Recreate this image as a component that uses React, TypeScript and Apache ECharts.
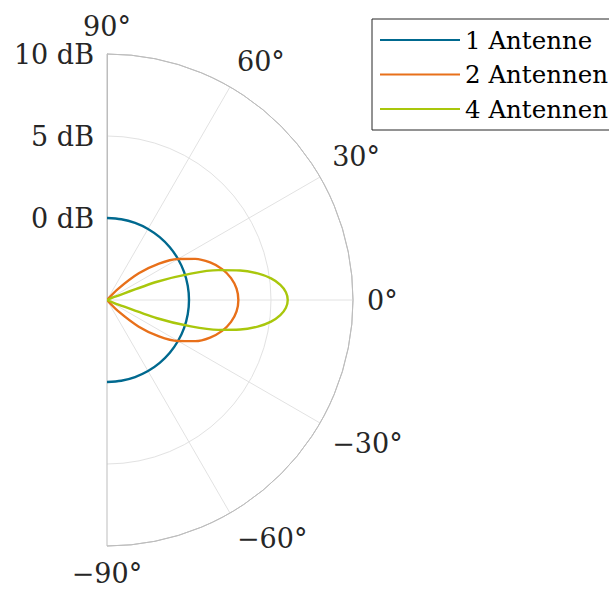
import React, { useEffect, useRef } from "react";
import * as echarts from "echarts";

// Beam patterns (gain in dB vs. angle in degrees)
const seriesNames = ["1 Antenne", "2 Antennen", "4 Antennen"];
const seriesColors = ["#00698f", "#e8701a", "#a9c70c"];

const angles1 = [-90, -80, -70, -60, -50, -40, -30, -20, -10, 0, 10, 20, 30, 40, 50, 60, 70, 80, 90];
const gain1 = [0, 0, 0, 0, 0, 0, 0, 0, 0, 0, 0, 0, 0, 0, 0, 0, 0, 0, 0];

const angles2 = [-90, -50, -45, -40, -35, -30, -25, -20, -15, -10, -5, 0, 5, 10, 15, 20, 25, 30, 35, 40, 45, 50, 90];
const gain2 = [-5, -5, -4.04, -2.47, -1.13, 0, 0.94, 1.69, 2.27, 2.68, 2.93, 3.01, 2.93, 2.68, 2.27, 1.69, 0.94, 0, -1.13, -2.47, -4.04, -5, -5];

const angles3 = [-90, -25, -22.5, -20, -17.5, -15, -12.5, -10, -7.5, -5, -2.5, 0, 2.5, 5, 7.5, 10, 12.5, 15, 17.5, 20, 22.5, 25, 90];
const gain3 = [-5, -5, -4.52, -1.75, 0.36, 2.03, 3.32, 4.33, 5.09, 5.61, 5.92, 6.02, 5.92, 5.61, 5.09, 4.33, 3.32, 2.03, 0.36, -1.75, -4.52, -5, -5];

const radiusMin = -5;
const radiusMax = 10;
const radiusStep = 5;
const angleMin = -90;
const angleMax = 90;
const angleStep = 30;

const FONT = "DejaVu Serif";

// ECharts maps the angle axis min to startAngle (top); the plot's angles grow
// counter-clockwise, so the axis runs over the mirrored angle.
const toAxisAngle = (deg: number) => -deg;
const fromAxisAngle = (v: number) => -v;

export default function App() {
  const ref = useRef<HTMLDivElement>(null);
  useEffect(() => {
    if (!ref.current) return;
    const chart = echarts.init(ref.current, null, { renderer: "svg" });
    const anglesList = [angles1, angles2, angles3];
    const gainsList = [gain1, gain2, gain3];
    chart.setOption({
      animation: false,
      backgroundColor: "#ffffff",
      polar: { center: [107, 300], radius: 246 },
      angleAxis: {
        type: "value",
        min: angleMin,
        max: angleMax,
        interval: angleStep,
        startAngle: 90,
        endAngle: -90,
        clockwise: true,
        axisLine: { show: true, lineStyle: { color: "#bdbdbd", width: 1 } },
        axisTick: { show: false },
        axisLabel: {
          margin: 14,
          fontSize: 27,
          fontFamily: FONT,
          color: "#262626",
          formatter: (v: number) => {
            const d = fromAxisAngle(v);
            return (d < 0 ? "\u2212" + -d : String(d === 0 ? 0 : d)) + "\u00b0";
          },
        },
        splitLine: {
          show: true,
          lineStyle: {
            color: ["#bdbdbd", "#e2e2e2", "#e2e2e2", "#e2e2e2", "#e2e2e2", "#e2e2e2", "#bdbdbd"],
            width: 1,
          },
        },
      },
      radiusAxis: {
        type: "value",
        min: radiusMin,
        max: radiusMax,
        interval: radiusStep,
        axisLine: { show: true, lineStyle: { color: "#bdbdbd", width: 1 } },
        axisTick: { show: false },
        axisLabel: {
          margin: 13,
          fontSize: 27,
          fontFamily: FONT,
          color: "#262626",
          formatter: (v: number) => (v === radiusMin ? "" : v + " dB"),
        },
        splitLine: {
          show: true,
          lineStyle: { color: ["#e2e2e2", "#e2e2e2", "#e2e2e2", "#bdbdbd"], width: 1 },
        },
      },
      legend: {
        data: seriesNames.map((name) => ({ name, icon: "rect" })),
        orient: "vertical",
        left: 372,
        top: 19,
        padding: [7, 20, 7, 8],
        itemWidth: 80,
        itemHeight: 2,
        itemGap: 6.5,
        borderColor: "#262626",
        borderWidth: 1,
        backgroundColor: "#ffffff",
        textStyle: { fontFamily: FONT, fontSize: 24.5, color: "#000", lineHeight: 28 },
      },
      series: seriesNames.map((name, k) => ({
        name,
        type: "line",
        coordinateSystem: "polar",
        symbol: "none",
        smooth: 0.3,
        color: seriesColors[k],
        lineStyle: { width: 2.4, color: seriesColors[k] },
        data: anglesList[k].map((a, i) => [gainsList[k][i], toAxisAngle(a)]),
      })),
    });
    return () => chart.dispose();
  }, []);
  return <div ref={ref} style={{ position: "absolute", left: 0, top: 0, width: 609, height: 592 }} />;
}
